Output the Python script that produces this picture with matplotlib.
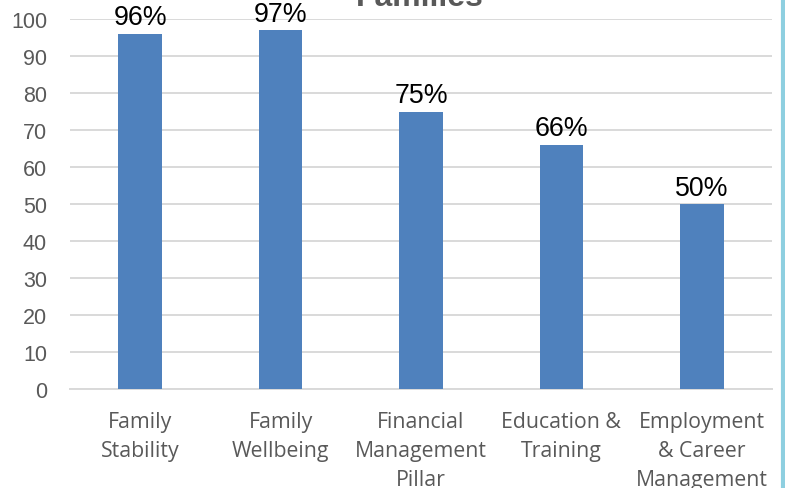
import matplotlib

matplotlib.use("Agg")
import matplotlib.pyplot as plt
from matplotlib.lines import Line2D

categories = [
    "Family\nStability",
    "Family\nWellbeing",
    "Financial\nManagement\nPillar",
    "Education &\nTraining",
    "Employment\n& Career\nManagement",
]
values = [96, 97, 75, 66, 50]
yticks = list(range(0, 101, 10))
title = "Families"

BAR_COLOR = "#4f81bd"
GRID_COLOR = "#d9d9d9"
TEXT_GRAY = "#595959"

fig = plt.figure(figsize=(7.85, 4.89), dpi=100)
ax = fig.add_axes([70 / 785, 1 - 390 / 489, 702 / 785, 370 / 489])

x = range(len(categories))
ax.bar(x, values, width=0.31, color=BAR_COLOR, zorder=3)

for xi, v in zip(x, values):
    ax.annotate(f"{v}%", (xi, v), xytext=(0, 2.5), textcoords="offset points",
                ha="center", va="bottom", fontsize=19.3,
                family="Liberation Sans", color="black", clip_on=False)

ax.set_xlim(-0.5, len(categories) - 0.5)
ax.set_ylim(0, 100)
ax.set_yticks(yticks)
ax.set_yticklabels([str(t) for t in yticks], fontsize=15.5,
                   family="Liberation Sans", color=TEXT_GRAY)
ax.set_xticks(list(x))
ax.set_xticklabels(categories, fontsize=15.3, family="Open Sans",
                   color=TEXT_GRAY, linespacing=1.52)
ax.tick_params(axis="y", length=0, pad=16.5)
ax.tick_params(axis="x", length=0, pad=15.5)

ax.grid(axis="y", color=GRID_COLOR, linewidth=1.4, zorder=0)
for side in ("top", "right", "left"):
    ax.spines[side].set_visible(False)
ax.spines["bottom"].set_color(GRID_COLOR)
ax.spines["bottom"].set_linewidth(1.4)

fig.text(420 / 785, 1 - 6 / 489, title, ha="center", va="baseline",
         fontsize=23, fontweight="bold", family="Liberation Sans",
         color=TEXT_GRAY)

# thin teal frame edge on the right
fig.add_artist(Line2D([783 / 785, 783 / 785], [0, 1], color="#8ecfe0",
                      linewidth=3, transform=fig.transFigure))

fig.savefig("out.png", dpi=100)
